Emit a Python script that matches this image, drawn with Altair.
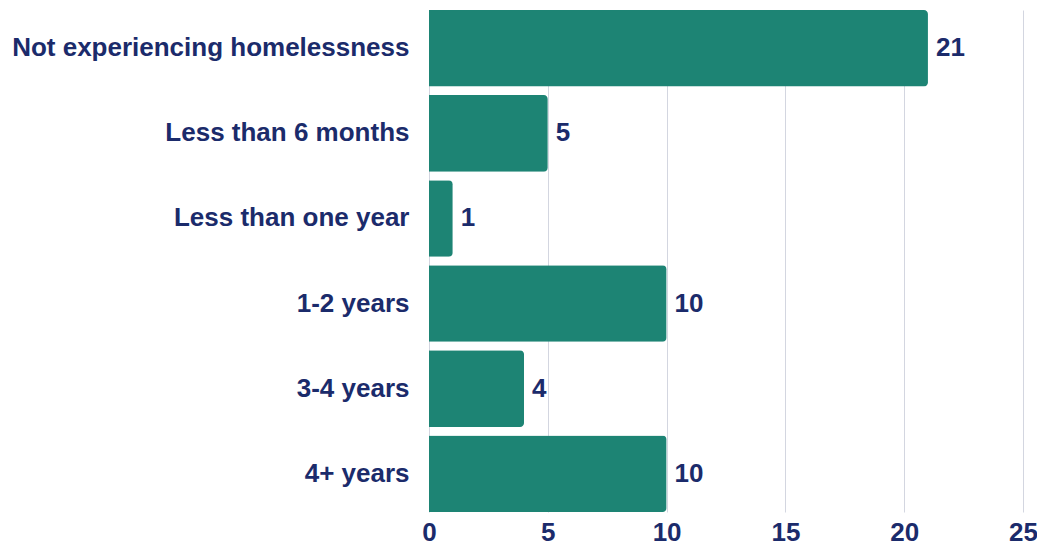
import altair as alt
import pandas as pd

categories = ["Not experiencing homelessness", "Less than 6 months", "Less than one year",
              "1-2 years", "3-4 years", "4+ years"]
counts = [21, 5, 1, 10, 4, 10]
x_ticks = [0, 5, 10, 15, 20, 25]

df = pd.DataFrame({"category": categories, "count": counts})

BAR = "#1d8474"
TEXT = "#1b2b6b"
FONT = "Liberation Sans"

y = alt.Y("category:N", sort=categories, title=None,
          scale=alt.Scale(paddingInner=0.1, paddingOuter=0),
          axis=alt.Axis(ticks=False, domain=False, labelFont=FONT, labelFontSize=26,
                        labelFontWeight="bold", labelColor=TEXT, labelPadding=20,
                        labelLimit=0))
x = alt.X("count:Q", title=None,
          scale=alt.Scale(domain=[0, 25], nice=False),
          axis=alt.Axis(values=x_ticks, ticks=False, domain=False, grid=True,
                        gridColor="#d3d6e0", gridWidth=1, labelFont=FONT,
                        labelFontSize=26, labelFontWeight="bold", labelColor=TEXT,
                        labelPadding=7, labelFlush=False))

bars = alt.Chart(df).mark_bar(color=BAR, cornerRadiusEnd=4).encode(x=x, y=y)
labels = alt.Chart(df).mark_text(align="left", baseline="middle", dx=8, font=FONT,
                                 fontSize=26, fontWeight="bold", color=TEXT).encode(
    x=alt.X("count:Q"), y=alt.Y("category:N", sort=categories), text="count:Q")

chart = (bars + labels).properties(
    width=594, height=502,
    autosize=alt.AutoSizeParams(type="none"),
    padding={"left": 421, "top": 2, "right": 14, "bottom": 34},
).configure_view(stroke=None)

chart.save("out.html", embed_options={"renderer": "svg", "actions": False})
